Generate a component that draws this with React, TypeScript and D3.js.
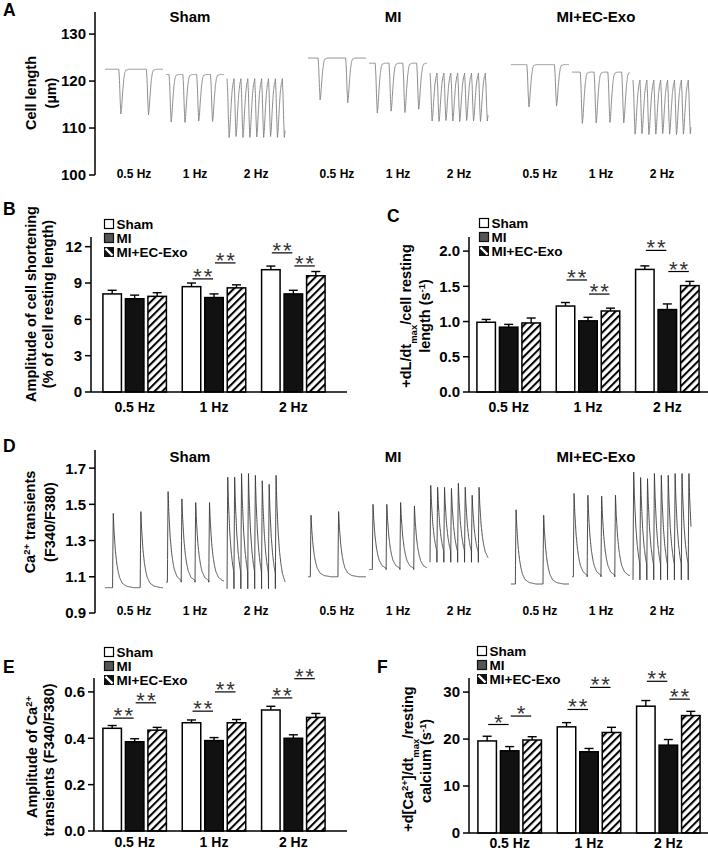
import React from "react";
import * as d3 from "d3";

// ---------- shared categories ----------
const groups = ["Sham", "MI", "MI+EC-Exo"];
const freqs = ["0.5 Hz", "1 Hz", "2 Hz"];
const freqHz = [0.5, 1, 2];

// ---------- Panel A: cell length traces (µm) ----------
const lenTicks = [100, 110, 120, 130];
const lenBase = [[122.5, 121.4, 120.5], [124.9, 123.8, 121.7], [123.5, 121.9, 120.2]];
const lenOnset = [[1.0, 0.22, 0.0], [0.73, 0.45, 0.0], [1.15, 0.6, 0.0]];
const lenTroughSham = [[113, 112.8], [111.3, 111.2, 111.5, 111.4], [108, 108.2, 108, 108, 108.1, 108, 108.2, 108, 108]];
const lenTroughMI = [[116, 115.4], [113.2, 113.6, 113.3, 114], [111.5, 111.4, 111.6, 111.5, 111.4, 111.6, 111.5, 111.4, 111.5]];
const lenTroughExo = [[114.5, 114.7], [111, 111.1, 111.2, 111.1], [108.7, 108.8, 108.6, 108.7, 108.8, 108.7, 108.6, 108.7, 108.8]];
const lenTplT = [0, 0.05, 0.1, 0.15, 0.2, 0.27, 0.35, 0.43, 0.5, 0.7];
const lenTplV = [0, 0.25, 0.7, 1, 0.88, 0.55, 0.25, 0.08, 0.02, 0];

// ---------- Panel D: Ca2+ transient traces (F340/F380) ----------
const caTicks = [0.9, 1.1, 1.3, 1.5, 1.7];
const caBase = [[1.04, 1.07, 1.034], [1.1, 1.14, 1.18], [1.06, 1.1, 1.083]];
const caOnset = [[0.55, 0.1, 0.0], [0.17, 0.24, 0.0], [0.32, 0.1, 0.0]];
const caPeakSham = [[1.45, 1.46], [1.57, 1.53, 1.51, 1.51], [1.65, 1.65, 1.67, 1.67, 1.66, 1.63, 1.61, 1.66]];
const caPeakMI = [[1.44, 1.46], [1.5, 1.5, 1.51, 1.49], [1.605, 1.594, 1.594, 1.588, 1.616, 1.594, 1.55, 1.594]];
const caPeakExo = [[1.47, 1.44], [1.56, 1.55, 1.545, 1.55], [1.678, 1.648, 1.642, 1.67, 1.66, 1.66, 1.67, 1.67, 1.67]];
const caTplT = [0, 0.02, 0.05, 0.1, 0.2, 0.3, 0.4, 0.5, 0.7, 1.0, 1.5];
const caTplV = [0, 0.5, 1, 0.78, 0.5, 0.33, 0.22, 0.14, 0.06, 0.02, 0];

// ---------- Panel B: amplitude of cell shortening (%) ----------
const shortTicks = [0, 3, 6, 9, 12];
const shortSham = [8.1, 8.7, 10.1];
const shortMI = [7.7, 7.8, 8.1];
const shortExo = [7.9, 8.6, 9.6];
const shortShamErr = [0.3, 0.3, 0.3];
const shortMIErr = [0.3, 0.3, 0.3];
const shortExoErr = [0.3, 0.25, 0.35];
const shortSig = [
  { f: 1, a: 0, b: 1, y: 9.34, s: "**" },
  { f: 1, a: 1, b: 2, y: 10.66, s: "**" },
  { f: 2, a: 0, b: 1, y: 11.49, s: "**" },
  { f: 2, a: 1, b: 2, y: 10.41, s: "**" },
];

// ---------- Panel C: +dL/dtmax / resting length (s-1) ----------
const dldtTicks = [0, 0.5, 1.0, 1.5, 2.0];
const dldtSham = [0.99, 1.22, 1.74];
const dldtMI = [0.92, 1.01, 1.17];
const dldtExo = [0.98, 1.15, 1.51];
const dldtShamErr = [0.04, 0.05, 0.05];
const dldtMIErr = [0.04, 0.05, 0.08];
const dldtExoErr = [0.07, 0.04, 0.06];
const dldtSig = [
  { f: 1, a: 0, b: 1, y: 1.59, s: "**" },
  { f: 1, a: 1, b: 2, y: 1.39, s: "**" },
  { f: 2, a: 0, b: 1, y: 2.01, s: "**" },
  { f: 2, a: 1, b: 2, y: 1.71, s: "**" },
];

// ---------- Panel E: amplitude of Ca2+ transients ----------
const caAmpTicks = [0, 0.2, 0.4, 0.6];
const caAmpSham = [0.443, 0.467, 0.522];
const caAmpMI = [0.385, 0.39, 0.4];
const caAmpExo = [0.435, 0.467, 0.49];
const caAmpShamErr = [0.012, 0.012, 0.016];
const caAmpMIErr = [0.013, 0.013, 0.015];
const caAmpExoErr = [0.012, 0.014, 0.017];
const caAmpSig = [
  { f: 0, a: 0, b: 1, y: 0.487, s: "**" },
  { f: 0, a: 1, b: 2, y: 0.553, s: "**" },
  { f: 1, a: 0, b: 1, y: 0.517, s: "**" },
  { f: 1, a: 1, b: 2, y: 0.6, s: "**" },
  { f: 2, a: 0, b: 1, y: 0.574, s: "**" },
  { f: 2, a: 1, b: 2, y: 0.657, s: "**" },
];

// ---------- Panel F: +d[Ca2+]/dtmax / resting calcium (s-1) ----------
const dcdtTicks = [0, 10, 20, 30];
const dcdtSham = [19.6, 22.6, 27.0];
const dcdtMI = [17.5, 17.3, 18.7];
const dcdtExo = [19.8, 21.4, 25.0];
const dcdtShamErr = [1.0, 0.9, 1.2];
const dcdtMIErr = [0.9, 0.7, 1.2];
const dcdtExoErr = [0.7, 1.1, 0.9];
const dcdtSig = [
  { f: 0, a: 0, b: 1, y: 23.1, s: "*" },
  { f: 0, a: 1, b: 2, y: 24.9, s: "*" },
  { f: 1, a: 0, b: 1, y: 26.3, s: "**" },
  { f: 1, a: 1, b: 2, y: 31.0, s: "**" },
  { f: 2, a: 0, b: 1, y: 32.3, s: "**" },
  { f: 2, a: 1, b: 2, y: 28.5, s: "**" },
];

const FONT = "'Liberation Sans', Arial, Helvetica, sans-serif";

function Legend({ x, y }: { x: number; y: number }) {
  const rows = [0, 14, 28];
  return (
    <g>
      {groups.map((g, i) => (
        <g key={g} transform={`translate(${x},${y + rows[i]})`}>
          {i === 0 && <rect x={0.5} y={-4.5} width={9} height={9} fill="#fff" stroke="#000" strokeWidth={1.2} />}
          {i === 1 && <rect x={0.5} y={-4.5} width={9} height={9} fill="#555" stroke="#111" strokeWidth={1.2} />}
          {i === 2 && (
            <g>
              <rect x={0} y={-5} width={10} height={10} fill="#111" />
              <line x1={1.5} y1={-3.5} x2={8.5} y2={3.5} stroke="#fff" strokeWidth={2.4} />
            </g>
          )}
          <text x={12.5} y={0} dy="0.36em" fontSize={13.5} fontWeight="bold" fontFamily={FONT}>
            {g}
          </text>
        </g>
      ))}
    </g>
  );
}

type BarProps = {
  axisX: number;
  bandX: number;
  xEnd: number;
  y0: number;
  yTop: number;
  max: number;
  ticks: number[];
  fmt: (v: number) => string;
  vals: number[][];
  errs: number[][];
  sig: { f: number; a: number; b: number; y: number; s: string }[];
  labelY: number;
  legend: [number, number];
};

function BarPanel(p: BarProps) {
  const y = d3.scaleLinear().domain([0, p.max]).range([p.y0, p.yTop]);
  const outer = d3.scaleBand<string>().domain(freqs).range([p.bandX, p.bandX + 238]).padding(0);
  const inner = d3.scaleBand<string>().domain(groups).range([-31.75, 31.75]).paddingInner(0.178).paddingOuter(0);
  const cx = (f: number, g: number) => outer(freqs[f])! + outer.bandwidth() / 2 + inner(groups[g])! + inner.bandwidth() / 2;
  const fills = ["#fff", "#111", "url(#hatch)"];
  return (
    <g fontFamily={FONT}>
      {freqs.map((fr, fi) =>
        groups.map((g, gi) => {
          const v = p.vals[gi][fi];
          const e = p.errs[gi][fi];
          const x = outer(fr)! + outer.bandwidth() / 2 + inner(g)!;
          const w = inner.bandwidth();
          const c = x + w / 2;
          return (
            <g key={fr + g}>
              <line x1={c} x2={c} y1={y(v)} y2={y(v + e)} stroke="#000" strokeWidth={1.4} />
              <line x1={c - 4.5} x2={c + 4.5} y1={y(v + e)} y2={y(v + e)} stroke="#000" strokeWidth={1.4} />
              <rect x={x} y={y(v)} width={w} height={p.y0 - y(v)} fill={fills[gi]} stroke="#000" strokeWidth={1.5} />
            </g>
          );
        })
      )}
      {p.sig.map((s, i) => {
        const x1 = cx(s.f, s.a) + 1;
        const x2 = cx(s.f, s.b) - 1;
        const yy = y(s.y);
        return (
          <g key={i}>
            <line x1={x1} x2={x2} y1={yy} y2={yy} stroke="#000" strokeWidth={1.2} />
            <text x={(x1 + x2) / 2 + 1} y={yy + 5} textAnchor="middle" fontSize={22} fill="#333" letterSpacing={2}>
              {s.s}
            </text>
          </g>
        );
      })}
      <line x1={p.axisX} x2={p.axisX} y1={p.yTop} y2={p.y0} stroke="#000" strokeWidth={1.5} />
      <line x1={p.axisX} x2={p.xEnd} y1={p.y0} y2={p.y0} stroke="#000" strokeWidth={1.5} />
      {p.ticks.map((t) => (
        <g key={t}>
          <line x1={p.axisX - 6} x2={p.axisX} y1={y(t)} y2={y(t)} stroke="#000" strokeWidth={1.5} />
          <text x={p.axisX - 9} y={y(t)} dy="0.36em" textAnchor="end" fontSize={15} fontWeight="bold">
            {p.fmt(t)}
          </text>
        </g>
      ))}
      {freqs.map((fr) => (
        <text key={fr} x={outer(fr)! + outer.bandwidth() / 2} y={p.labelY} textAnchor="middle" fontSize={14} fontWeight="bold">
          {fr}
        </text>
      ))}
      <Legend x={p.legend[0]} y={p.legend[1]} />
    </g>
  );
}

type TraceProps = {
  y0: number;
  yTop: number;
  domain: [number, number];
  ticks: number[];
  fmt: (v: number) => string;
  base: number[][];
  onset: number[][];
  amps: number[][][];
  tplT: number[];
  tplV: number[];
  sign: number;
  color: string;
  titleY: number;
  freqY: number;
};

function TracePanel(p: TraceProps) {
  const axisX = 95;
  const y = d3.scaleLinear().domain(p.domain).range([p.y0, p.yTop]);
  const outer = d3.scaleBand<string>().domain(groups).range([105, 691]).paddingInner(0.113).paddingOuter(0);
  const inner = d3.scaleBand<string>().domain(freqs).range([0, outer.bandwidth()]).paddingInner(0.05).paddingOuter(0);
  const tpl = d3.scaleLinear().domain(p.tplT).range(p.tplV).clamp(true);
  const tMax = 4.2;
  const times = d3.range(0, tMax + 0.0001, 0.01);
  return (
    <g fontFamily={FONT}>
      {groups.map((g, gi) => (
        <g key={g}>
          <text x={outer(g)! + 85} y={p.titleY} textAnchor="middle" fontSize={15} fontWeight="bold">
            {g}
          </text>
          {freqs.map((fr, fi) => {
            const x0 = outer(g)! + inner(fr)!;
            const xs = d3.scaleLinear().domain([0, tMax]).range([x0, x0 + inner.bandwidth()]);
            const peaks = p.amps[gi][fi];
            const base = p.base[gi][fi];
            const on = p.onset[gi][fi];
            const f = freqHz[fi];
            const val = (t: number) => {
              let k = Math.floor((t - on) * f + 1e-9);
              if (k < 0) return base;
              if (k > peaks.length - 1) k = peaks.length - 1;
              const dt = t - (on + k / f);
              return base + p.sign * Math.abs(peaks[k] - base) * tpl(dt);
            };
            const line = d3
              .line<number>()
              .x((t) => xs(t))
              .y((t) => y(val(t)));
            return (
              <g key={fr}>
                <path d={line(times)!} fill="none" stroke={p.color} strokeWidth={0.9} />
                <text x={x0 + inner.bandwidth() / 2} y={p.freqY} textAnchor="middle" fontSize={12} fontWeight="bold">
                  {fr}
                </text>
              </g>
            );
          })}
        </g>
      ))}
      <line x1={axisX} x2={axisX} y1={p.yTop} y2={p.y0} stroke="#000" strokeWidth={1.5} />
      {p.ticks.map((t) => (
        <g key={t}>
          <line x1={axisX - 6} x2={axisX} y1={y(t)} y2={y(t)} stroke="#000" strokeWidth={1.5} />
          <text x={axisX - 9} y={y(t)} dy="0.36em" textAnchor="end" fontSize={15} fontWeight="bold">
            {p.fmt(t)}
          </text>
        </g>
      ))}
    </g>
  );
}

function VLabel({ x, y, children }: { x: number; y: number; children: React.ReactNode }) {
  return (
    <text transform={`translate(${x},${y}) rotate(-90)`} textAnchor="middle" fontSize={14.5} fontWeight="bold" fontFamily={FONT}>
      {children}
    </text>
  );
}

const Sup = ({ t }: { t: string }) => (
  <tspan baselineShift="super" fontSize={9.5}>
    {t}
  </tspan>
);
const Sub = ({ t }: { t: string }) => (
  <tspan baselineShift="sub" fontSize={9.5}>
    {t}
  </tspan>
);

function Letter({ x, y, t }: { x: number; y: number; t: string }) {
  return (
    <text x={x} y={y} fontSize={17.5} fontWeight="bold" fontFamily={FONT}>
      {t}
    </text>
  );
}

export default function App() {
  const f0 = (v: number) => d3.format("d")(v);
  const f1 = (v: number) => d3.format(".1f")(v);
  return (
    <svg width={708} height={852} style={{ position: "absolute", left: 0, top: 0, background: "#fff" }}>
      <defs>
        <pattern id="hatch" patternUnits="userSpaceOnUse" width={5.5} height={5.5} patternTransform="rotate(45)">
          <rect width={5.5} height={5.5} fill="#fff" />
          <line x1={1} y1={0} x2={1} y2={5.5} stroke="#000" strokeWidth={2.1} />
        </pattern>
      </defs>
      <rect width={708} height={852} fill="#fff" />

      {/* A */}
      <Letter x={3} y={16} t="A" />
      <VLabel x={36} y={93}>Cell length</VLabel>
      <VLabel x={56} y={93}>(µm)</VLabel>
      <TracePanel
        y0={175}
        yTop={12}
        domain={[100, 134.7]}
        ticks={lenTicks}
        fmt={f0}
        base={lenBase}
        onset={lenOnset}
        amps={[lenTroughSham, lenTroughMI, lenTroughExo]}
        tplT={lenTplT}
        tplV={lenTplV}
        sign={-1}
        color="#808080"
        titleY={22}
        freqY={178}
      />

      {/* B */}
      <Letter x={3} y={215} t="B" />
      <VLabel x={36} y={304}>Amplitude of cell shortening</VLabel>
      <VLabel x={53} y={304}>(% of cell resting length)</VLabel>
      <BarPanel
        axisX={91}
        bandX={95}
        xEnd={347}
        y0={392}
        yTop={237}
        max={12.8}
        ticks={shortTicks}
        fmt={f0}
        vals={[shortSham, shortMI, shortExo]}
        errs={[shortShamErr, shortMIErr, shortExoErr]}
        sig={shortSig}
        labelY={412}
        legend={[104, 224]}
      />

      {/* C */}
      <Letter x={387} y={222} t="C" />
      <VLabel x={411} y={316}>
        +dL/dt<Sub t="max" />/cell resting
      </VLabel>
      <VLabel x={430} y={316}>
        length  (s<Sup t="-1" />)
      </VLabel>
      <BarPanel
        axisX={469}
        bandX={469}
        xEnd={708}
        y0={392}
        yTop={237}
        max={2.2}
        ticks={dldtTicks}
        fmt={f1}
        vals={[dldtSham, dldtMI, dldtExo]}
        errs={[dldtShamErr, dldtMIErr, dldtExoErr]}
        sig={dldtSig}
        labelY={412}
        legend={[479, 223]}
      />

      {/* D */}
      <Letter x={3} y={452} t="D" />
      <VLabel x={35} y={522}>
        Ca<Sup t="2+" /> transients
      </VLabel>
      <VLabel x={55} y={522}>(F340/F380)</VLabel>
      <TracePanel
        y0={613}
        yTop={450}
        domain={[0.9, 1.8]}
        ticks={caTicks}
        fmt={f1}
        base={caBase}
        onset={caOnset}
        amps={[caPeakSham, caPeakMI, caPeakExo]}
        tplT={caTplT}
        tplV={caTplV}
        sign={1}
        color="#3a3a3a"
        titleY={462}
        freqY={615}
      />

      {/* E */}
      <Letter x={3} y={673} t="E" />
      <VLabel x={37} y={757}>
        Amplitude of Ca<Sup t="2+" />
      </VLabel>
      <VLabel x={54} y={760}>transients (F340/F380)</VLabel>
      <BarPanel
        axisX={94}
        bandX={95}
        xEnd={347}
        y0={831}
        yTop={678}
        max={0.66}
        ticks={caAmpTicks}
        fmt={f1}
        vals={[caAmpSham, caAmpMI, caAmpExo]}
        errs={[caAmpShamErr, caAmpMIErr, caAmpExoErr]}
        sig={caAmpSig}
        labelY={847}
        legend={[104, 652]}
      />

      {/* F */}
      <Letter x={377} y={673} t="F" />
      <VLabel x={413} y={759}>
        +d[Ca<Sup t="2+" />]/dt<Sub t="max" />/resting
      </VLabel>
      <VLabel x={431} y={761}>
        calcium (s<Sup t="-1" />)
      </VLabel>
      <BarPanel
        axisX={469}
        bandX={470}
        xEnd={708}
        y0={833}
        yTop={678}
        max={33}
        ticks={dcdtTicks}
        fmt={f0}
        vals={[dcdtSham, dcdtMI, dcdtExo]}
        errs={[dcdtShamErr, dcdtMIErr, dcdtExoErr]}
        sig={dcdtSig}
        labelY={848}
        legend={[477, 651]}
      />
    </svg>
  );
}
